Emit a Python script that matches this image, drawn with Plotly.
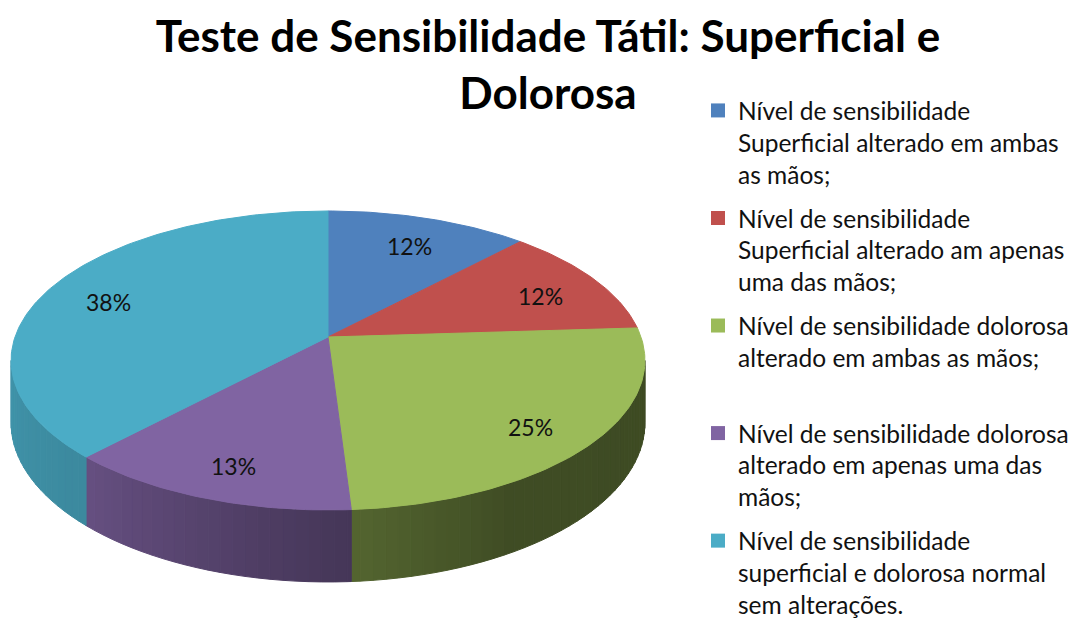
import textwrap
import numpy as np
import plotly.graph_objects as go

# ---------------- data ----------------
categories = [
    "Nível de sensibilidade Superficial alterado em ambas as mãos;",
    "Nível de sensibilidade Superficial alterado am apenas uma das mãos;",
    "Nível de sensibilidade dolorosa alterado em ambas as mãos;",
    "Nível de sensibilidade dolorosa alterado em apenas uma das mãos;",
    "Nível de sensibilidade superficial e dolorosa normal sem alterações.",
]
values = [12, 12, 25, 13, 38]
title_text = "Teste de Sensibilidade Tátil: Superficial e<br>Dolorosa"

# ---------------- style ----------------
colors = ["#4F81BD", "#C0504D", "#9BBB59", "#8064A2", "#4BACC6"]
FONT = "Lato, 'Open Sans', sans-serif"
OFF = 8                      # page body margin offset
W, H = 1078 - OFF, 621 - OFF
CX, CY = 328, 337            # pie apex (screen px)
R, S, K = 313, 145.8, 0.157  # perspective ellipse parameters
DEPTH = 60.7
LABEL_RHO = 0.79


def proj(theta_deg, rho=1.0, drop=0.0):
    t = np.radians(theta_deg)
    w = 1 + K * rho * np.cos(t)
    x = CX + R * rho * np.sin(t) / w
    y = CY - S * rho * np.cos(t) / w + drop / w
    return x, y


def hex_rgb(h):
    h = h.lstrip("#")
    return [int(h[i:i + 2], 16) for i in (0, 2, 4)]


def shade(hexcol, f):
    r, g, b = hex_rgb(hexcol)
    return "rgb(%d,%d,%d)" % (r * f, g * f, b * f)


def px_x(p):
    return (p - OFF) / W


def px_y(p):
    return 1 - (p - OFF) / H


vals = np.array(values, dtype=float)
bounds = np.concatenate([[0], np.cumsum(vals)]) / vals.sum() * 360.0

fig = go.Figure()

# ---- side wall (rim), only the visible front part ----
lo = np.degrees(np.arccos(-K))
hi = 360 - lo
edges = set(np.arange(lo, hi, 2.0).tolist()) | {lo, hi}
edges |= {b for b in bounds if lo < b < hi}
edges = sorted(edges)
knots_t = [lo, 150, 180, 223, hi]
knots_f = [0.40, 0.41, 0.56, 0.80, 0.86]
for a, b in zip(edges[:-1], edges[1:]):
    mid = 0.5 * (a + b)
    idx = int(np.searchsorted(bounds, mid) - 1)
    col = shade(colors[idx], float(np.interp(mid, knots_t, knots_f)))
    ts = np.linspace(a, b, 4)
    xt, yt = proj(ts)
    xb, yb = proj(ts[::-1], drop=DEPTH)
    fig.add_trace(go.Scatter(
        x=np.concatenate([xt, xb, xt[:1]]), y=np.concatenate([yt, yb, yt[:1]]),
        mode="lines", fill="toself", fillcolor=col,
        line=dict(color=col, width=1), hoverinfo="skip", showlegend=False))

# ---- top faces ----
for i, v in enumerate(values):
    a, b = bounds[i], bounds[i + 1]
    ts = np.linspace(a, b, max(3, int(b - a) + 1))
    xs, ys = proj(ts)
    fig.add_trace(go.Scatter(
        x=np.concatenate([[CX], xs, [CX]]), y=np.concatenate([[CY], ys, [CY]]),
        mode="lines", fill="toself", fillcolor=colors[i],
        line=dict(color=colors[i], width=1), name=categories[i],
        hoverinfo="name", showlegend=False))

# ---- percentage labels ----
for i, v in enumerate(values):
    mid = 0.5 * (bounds[i] + bounds[i + 1])
    x, y = proj(mid, rho=LABEL_RHO, drop=6)
    fig.add_annotation(x=float(x), y=float(y), text=f"{v}%", showarrow=False,
                       font=dict(family=FONT, size=23, color="#111111"))

# ---- legend entries ----
for i, cat in enumerate(categories):
    lines = textwrap.wrap(cat, width=31)
    while len(lines) < 3:
        lines.append(" ")
    fig.add_trace(go.Scatter(
        x=[None], y=[None], mode="markers",
        marker=dict(symbol="square", size=14, color=colors[i]),
        name="<br>".join(lines), legendgroup=f"g{i}", showlegend=True))

fig.update_layout(
    width=W, height=H,
    margin=dict(l=0, r=0, t=0, b=0, autoexpand=False),
    paper_bgcolor="white", plot_bgcolor="white",
    xaxis=dict(range=[OFF, OFF + W], visible=False, fixedrange=True),
    yaxis=dict(range=[OFF + H, OFF], visible=False, fixedrange=True),
    title=dict(text=title_text, x=px_x(548), xanchor="center",
               y=px_y(52), yanchor="top", yref="container",
               font=dict(family=FONT, size=44, color="#000000", weight="bold")),
    legend=dict(x=px_x(698), xanchor="left", y=px_y(88), yanchor="top",
                valign="top", tracegroupgap=9, itemwidth=30,
                font=dict(family=FONT, size=24.5, color="#111111"),
                bgcolor="rgba(0,0,0,0)"),
    showlegend=True,
)

fig.write_html("out.html")
